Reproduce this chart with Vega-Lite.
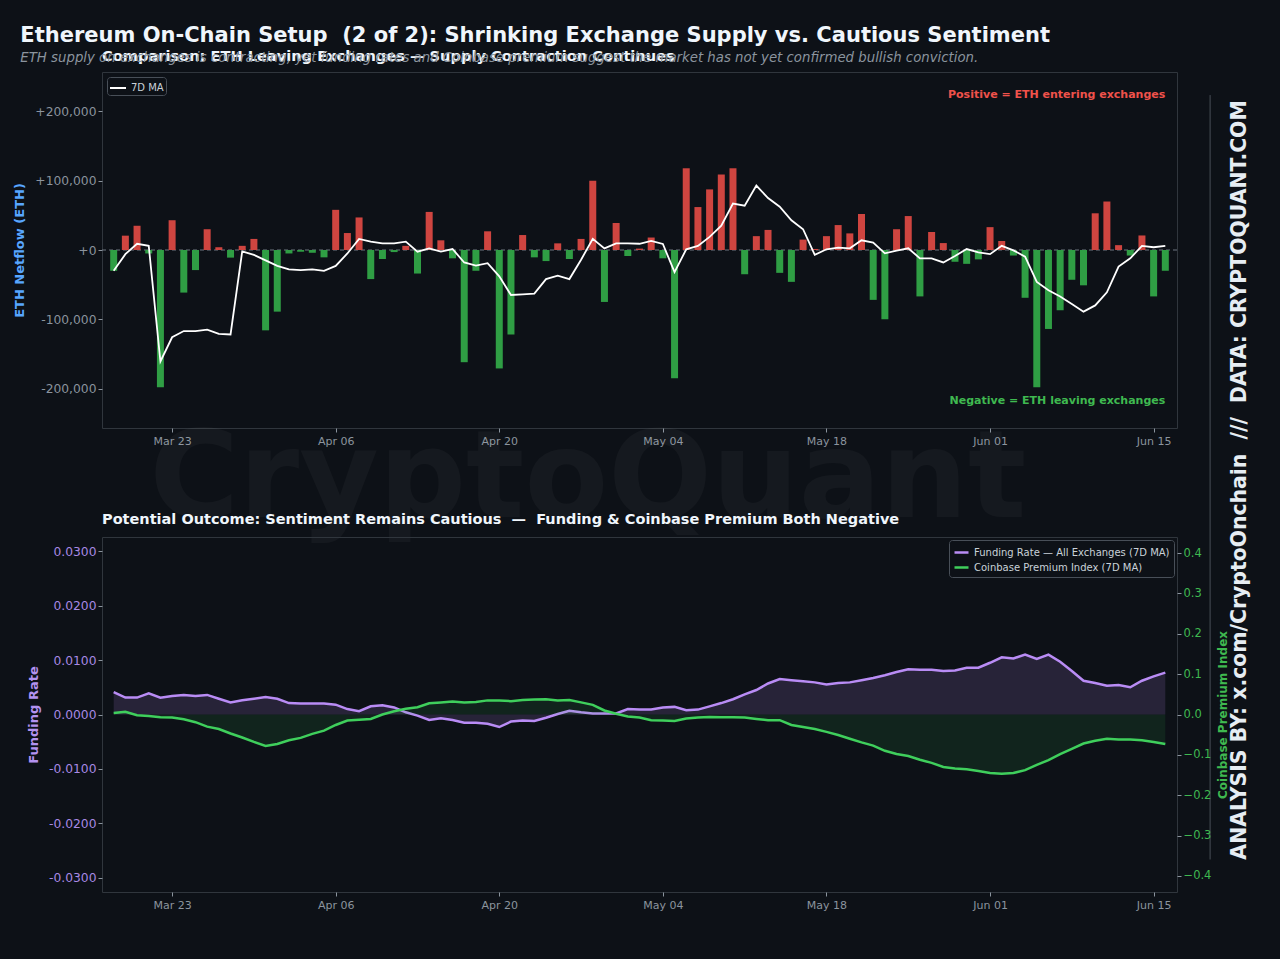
{
  "$schema": "https://vega.github.io/schema/vega-lite/v6.json",
  "background": "#0d1117",
  "padding": {"left": 13, "top": 24, "right": 30, "bottom": 48},
  "config": {
    "font": "DejaVu Sans",
    "view": {"stroke": "#30363d", "fill": null},
    "axis": {"domain": false, "grid": false, "labelFont": "DejaVu Sans", "titleFont": "DejaVu Sans", "labelColor": "#8b949e", "tickColor": "#8b949e", "tickSize": 4, "labelFontSize": 11}
  },
  "title": {
    "text": "Ethereum On-Chain Setup \u00a0(2 of 2): Shrinking Exchange Supply vs. Cautious Sentiment",
    "subtitle": "ETH supply on exchanges is contracting, yet funding rates and Coinbase premium suggest the market has not yet confirmed bullish conviction.",
    "anchor": "start", "fontSize": 21, "fontWeight": "bold", "color": "#f0f6fc",
    "subtitleColor": "#8b949e", "subtitleFontStyle": "italic", "subtitleFontSize": 13.3, "subtitlePadding": 5,
    "offset": -15, "dx": 7
  },
  "data": {"values": [
    {"d": "2025-03-18", "netflow": -30000, "ma7": -30000, "funding": 0.0041, "premium": 0.004},
    {"d": "2025-03-19", "netflow": 20700, "ma7": -6000, "funding": 0.0031, "premium": 0.0066},
    {"d": "2025-03-20", "netflow": 35000, "ma7": 9000, "funding": 0.0031, "premium": -0.0017},
    {"d": "2025-03-21", "netflow": -5000, "ma7": 6000, "funding": 0.0039, "premium": -0.004},
    {"d": "2025-03-22", "netflow": -198000, "ma7": -161000, "funding": 0.0031, "premium": -0.0066},
    {"d": "2025-03-23", "netflow": 43000, "ma7": -126000, "funding": 0.0034, "premium": -0.0074},
    {"d": "2025-03-24", "netflow": -61500, "ma7": -117000, "funding": 0.0036, "premium": -0.012},
    {"d": "2025-03-25", "netflow": -29000, "ma7": -117000, "funding": 0.0034, "premium": -0.019},
    {"d": "2025-03-26", "netflow": 30000, "ma7": -115000, "funding": 0.0036, "premium": -0.030},
    {"d": "2025-03-27", "netflow": 4000, "ma7": -121000, "funding": 0.0029, "premium": -0.036},
    {"d": "2025-03-28", "netflow": -11000, "ma7": -122000, "funding": 0.0022, "premium": -0.047},
    {"d": "2025-03-29", "netflow": 6000, "ma7": -2000, "funding": 0.0026, "premium": -0.057},
    {"d": "2025-03-30", "netflow": 16000, "ma7": -7000, "funding": 0.0029, "premium": -0.068},
    {"d": "2025-03-31", "netflow": -116000, "ma7": -15000, "funding": 0.0032, "premium": -0.078},
    {"d": "2025-04-01", "netflow": -89000, "ma7": -23000, "funding": 0.0029, "premium": -0.073},
    {"d": "2025-04-02", "netflow": -5000, "ma7": -28000, "funding": 0.0021, "premium": -0.064},
    {"d": "2025-04-03", "netflow": -2500, "ma7": -29000, "funding": 0.0020, "premium": -0.058},
    {"d": "2025-04-04", "netflow": -4000, "ma7": -28000, "funding": 0.0020, "premium": -0.048},
    {"d": "2025-04-05", "netflow": -10600, "ma7": -30000, "funding": 0.0020, "premium": -0.040},
    {"d": "2025-04-06", "netflow": 58000, "ma7": -23000, "funding": 0.0018, "premium": -0.026},
    {"d": "2025-04-07", "netflow": 24500, "ma7": -5000, "funding": 0.0010, "premium": -0.015},
    {"d": "2025-04-08", "netflow": 47000, "ma7": 16000, "funding": 0.0006, "premium": -0.013},
    {"d": "2025-04-09", "netflow": -42000, "ma7": 12000, "funding": 0.0015, "premium": -0.011},
    {"d": "2025-04-10", "netflow": -13000, "ma7": 9600, "funding": 0.0017, "premium": 0.000},
    {"d": "2025-04-11", "netflow": -3000, "ma7": 9600, "funding": 0.0013, "premium": 0.008},
    {"d": "2025-04-12", "netflow": 6000, "ma7": 12000, "funding": 0.0004, "premium": 0.014},
    {"d": "2025-04-13", "netflow": -34000, "ma7": -2400, "funding": -0.0002, "premium": 0.018},
    {"d": "2025-04-14", "netflow": 55000, "ma7": 2400, "funding": -0.0010, "premium": 0.028},
    {"d": "2025-04-15", "netflow": 14000, "ma7": -2400, "funding": -0.0007, "premium": 0.030},
    {"d": "2025-04-16", "netflow": -12000, "ma7": 1400, "funding": -0.0010, "premium": 0.032},
    {"d": "2025-04-17", "netflow": -162000, "ma7": -18000, "funding": -0.0015, "premium": 0.030},
    {"d": "2025-04-18", "netflow": -30000, "ma7": -22600, "funding": -0.0015, "premium": 0.031},
    {"d": "2025-04-19", "netflow": 27000, "ma7": -19000, "funding": -0.0017, "premium": 0.035},
    {"d": "2025-04-20", "netflow": -171000, "ma7": -38000, "funding": -0.0023, "premium": 0.035},
    {"d": "2025-04-21", "netflow": -122000, "ma7": -65000, "funding": -0.0013, "premium": 0.033},
    {"d": "2025-04-22", "netflow": 21600, "ma7": -64000, "funding": -0.0011, "premium": 0.036},
    {"d": "2025-04-23", "netflow": -10600, "ma7": -63000, "funding": -0.0012, "premium": 0.037},
    {"d": "2025-04-24", "netflow": -16000, "ma7": -42000, "funding": -0.0006, "premium": 0.038},
    {"d": "2025-04-25", "netflow": 9600, "ma7": -37000, "funding": 0.0001, "premium": 0.035},
    {"d": "2025-04-26", "netflow": -13000, "ma7": -42000, "funding": 0.0007, "premium": 0.036},
    {"d": "2025-04-27", "netflow": 16000, "ma7": -14000, "funding": 0.0004, "premium": 0.030},
    {"d": "2025-04-28", "netflow": 100000, "ma7": 16000, "funding": 0.0002, "premium": 0.024},
    {"d": "2025-04-29", "netflow": -75000, "ma7": 2400, "funding": 0.0002, "premium": 0.010},
    {"d": "2025-04-30", "netflow": 39000, "ma7": 9600, "funding": 0.0002, "premium": 0.002},
    {"d": "2025-05-01", "netflow": -8700, "ma7": 9600, "funding": 0.0010, "premium": -0.005},
    {"d": "2025-05-02", "netflow": 2000, "ma7": 9000, "funding": 0.0009, "premium": -0.0074},
    {"d": "2025-05-03", "netflow": 18000, "ma7": 13000, "funding": 0.0009, "premium": -0.014},
    {"d": "2025-05-04", "netflow": -12000, "ma7": 8700, "funding": 0.0013, "premium": -0.015},
    {"d": "2025-05-05", "netflow": -185000, "ma7": -32000, "funding": 0.0014, "premium": -0.016},
    {"d": "2025-05-06", "netflow": 118000, "ma7": 1000, "funding": 0.0008, "premium": -0.010},
    {"d": "2025-05-07", "netflow": 62000, "ma7": 5800, "funding": 0.0009, "premium": -0.0074},
    {"d": "2025-05-08", "netflow": 87500, "ma7": 19000, "funding": 0.0015, "premium": -0.006},
    {"d": "2025-05-09", "netflow": 109000, "ma7": 35000, "funding": 0.0021, "premium": -0.0066},
    {"d": "2025-05-10", "netflow": 118000, "ma7": 67000, "funding": 0.0028, "premium": -0.0066},
    {"d": "2025-05-11", "netflow": -35000, "ma7": 64000, "funding": 0.0037, "premium": -0.0074},
    {"d": "2025-05-12", "netflow": 20000, "ma7": 93000, "funding": 0.0045, "premium": -0.011},
    {"d": "2025-05-13", "netflow": 29000, "ma7": 75000, "funding": 0.0057, "premium": -0.014},
    {"d": "2025-05-14", "netflow": -33000, "ma7": 62500, "funding": 0.0065, "premium": -0.014},
    {"d": "2025-05-15", "netflow": -46000, "ma7": 43000, "funding": 0.0063, "premium": -0.026},
    {"d": "2025-05-16", "netflow": 15000, "ma7": 30000, "funding": 0.0061, "premium": -0.031},
    {"d": "2025-05-17", "netflow": 1500, "ma7": -7000, "funding": 0.0059, "premium": -0.036},
    {"d": "2025-05-18", "netflow": 20000, "ma7": 1000, "funding": 0.0055, "premium": -0.043},
    {"d": "2025-05-19", "netflow": 36000, "ma7": 3400, "funding": 0.0058, "premium": -0.051},
    {"d": "2025-05-20", "netflow": 24000, "ma7": 2400, "funding": 0.0059, "premium": -0.060},
    {"d": "2025-05-21", "netflow": 52000, "ma7": 14000, "funding": 0.0063, "premium": -0.069},
    {"d": "2025-05-22", "netflow": -72000, "ma7": 10600, "funding": 0.0067, "premium": -0.077},
    {"d": "2025-05-23", "netflow": -100000, "ma7": -4800, "funding": 0.0072, "premium": -0.090},
    {"d": "2025-05-24", "netflow": 30000, "ma7": -1000, "funding": 0.0078, "premium": -0.098},
    {"d": "2025-05-25", "netflow": 49000, "ma7": 2400, "funding": 0.0083, "premium": -0.103},
    {"d": "2025-05-26", "netflow": -67000, "ma7": -12000, "funding": 0.0082, "premium": -0.112},
    {"d": "2025-05-27", "netflow": 26000, "ma7": -12000, "funding": 0.0082, "premium": -0.120},
    {"d": "2025-05-28", "netflow": 10000, "ma7": -18000, "funding": 0.0080, "premium": -0.130},
    {"d": "2025-05-29", "netflow": -17000, "ma7": -8700, "funding": 0.0081, "premium": -0.134},
    {"d": "2025-05-30", "netflow": -20000, "ma7": 1400, "funding": 0.0086, "premium": -0.136},
    {"d": "2025-05-31", "netflow": -13500, "ma7": -3400, "funding": 0.0086, "premium": -0.140},
    {"d": "2025-06-01", "netflow": 33000, "ma7": -6000, "funding": 0.0095, "premium": -0.145},
    {"d": "2025-06-02", "netflow": 13000, "ma7": 6000, "funding": 0.0105, "premium": -0.147},
    {"d": "2025-06-03", "netflow": -8000, "ma7": -500, "funding": 0.0103, "premium": -0.145},
    {"d": "2025-06-04", "netflow": -69000, "ma7": -9600, "funding": 0.0110, "premium": -0.138},
    {"d": "2025-06-05", "netflow": -198000, "ma7": -46000, "funding": 0.0102, "premium": -0.125},
    {"d": "2025-06-06", "netflow": -114000, "ma7": -58000, "funding": 0.0110, "premium": -0.113},
    {"d": "2025-06-07", "netflow": -87000, "ma7": -67000, "funding": 0.0097, "premium": -0.098},
    {"d": "2025-06-08", "netflow": -43000, "ma7": -78000, "funding": 0.0080, "premium": -0.085},
    {"d": "2025-06-09", "netflow": -51000, "ma7": -89000, "funding": 0.0062, "premium": -0.072},
    {"d": "2025-06-10", "netflow": 53000, "ma7": -80000, "funding": 0.0058, "premium": -0.065},
    {"d": "2025-06-11", "netflow": 70000, "ma7": -61000, "funding": 0.0053, "premium": -0.060},
    {"d": "2025-06-12", "netflow": 7000, "ma7": -24000, "funding": 0.0054, "premium": -0.062},
    {"d": "2025-06-13", "netflow": -8000, "ma7": -12000, "funding": 0.0050, "premium": -0.062},
    {"d": "2025-06-14", "netflow": 21000, "ma7": 6000, "funding": 0.0062, "premium": -0.064},
    {"d": "2025-06-15", "netflow": -67000, "ma7": 4000, "funding": 0.0070, "premium": -0.068},
    {"d": "2025-06-16", "netflow": -30000, "ma7": 6000, "funding": 0.0077, "premium": -0.073}
  ]},
  "bounds": "flush",
  "spacing": 109,
  "resolve": {"scale": {"color": "independent"}, "legend": {"color": "independent"}},
  "vconcat": [
    {
      "width": 1075,
      "height": 356,
      "title": {"text": "Comparison: ETH Leaving Exchanges — Supply Contraction Continues", "anchor": "start", "frame": "group", "fontSize": 14.6, "fontWeight": "bold", "color": "#f0f6fc", "offset": 8},
      "encoding": {
        "x": {"field": "d", "type": "temporal", "title": null,
          "scale": {"type": "utc", "padding": 0, "domain": [{"year": 2025, "month": 3, "date": 17, "utc": true}, {"year": 2025, "month": 6, "date": 17, "utc": true}]},
          "axis": {"labelExpr": "utcFormat(datum.value, '%b %d')", "labelPadding": 3,
            "values": [{"year": 2025, "month": 3, "date": 23, "utc": true}, {"year": 2025, "month": 4, "date": 6, "utc": true}, {"year": 2025, "month": 4, "date": 20, "utc": true}, {"year": 2025, "month": 5, "date": 4, "utc": true}, {"year": 2025, "month": 5, "date": 18, "utc": true}, {"year": 2025, "month": 6, "date": 1, "utc": true}, {"year": 2025, "month": 6, "date": 15, "utc": true}]}}
      },
      "layer": [
        {
          "data": {"values": [{"d": "2025-04-27"}]},
          "mark": {"type": "text", "text": "CryptoQuant", "fontSize": 122, "fontWeight": "bold", "color": "#ffffff", "opacity": 0.03, "align": "center", "baseline": "middle"},
          "encoding": {"x": {"datum": {"year": 2025, "month": 4, "date": 27, "hours": 14, "utc": true}, "type": "temporal"}, "y": {"datum": -332000, "type": "quantitative"}}
        },
        {
          "data": {"values": [{"d": "2025-03-18"}]},
          "mark": {"type": "rule", "color": "#6e7681", "strokeDash": [4, 3], "strokeWidth": 1},
          "encoding": {"x": null, "y": {"datum": 0, "type": "quantitative"}}
        },
        {
          "mark": {"type": "bar", "size": 7},
          "encoding": {
            "y": {"field": "netflow", "type": "quantitative",
              "scale": {"domain": [-257000, 257000], "nice": false, "zero": false},
              "axis": {"title": "ETH Netflow (ETH)", "titleColor": "#58a6ff", "titleFontSize": 13, "titleFontWeight": "bold", "titlePadding": 8,
                "values": [-200000, -100000, 0, 100000, 200000], "labelFontSize": 12.3,
                "labelExpr": "datum.value > 0 ? '+' + format(datum.value, ',') : (datum.value == 0 ? '+0' : replace(format(datum.value, ','), '−', '-'))"}},
            "y2": {"datum": 0},
            "color": {"condition": {"test": "datum.netflow > 0", "value": "#cf4540"}, "value": "#2f9e44"}
          }
        },
        {
          "mark": {"type": "line", "strokeWidth": 1.8},
          "encoding": {
            "y": {"field": "ma7", "type": "quantitative"},
            "color": {"datum": "7D MA", "type": "nominal", "scale": {"domain": ["7D MA"], "range": ["#ffffff"]},
              "legend": {"title": null, "orient": "top-left", "offset": 5, "symbolType": "stroke", "symbolSize": 256, "symbolStrokeWidth": 2, "labelColor": "#c9d1d9", "labelFontSize": 10, "fillColor": "#0d1117", "strokeColor": "#484f58", "padding": 2, "cornerRadius": 3}}
          }
        },
        {
          "data": {"values": [{"d": "2025-06-16"}]},
          "mark": {"type": "text", "text": "Positive = ETH entering exchanges", "fontSize": 11, "fontWeight": "bold", "color": "#f0524b", "align": "right", "baseline": "middle"},
          "encoding": {"x": {"datum": {"year": 2025, "month": 6, "date": 16, "utc": true}, "type": "temporal"}, "y": {"datum": 223700, "type": "quantitative"}}
        },
        {
          "data": {"values": [{"d": "2025-06-16"}]},
          "mark": {"type": "text", "text": "Negative = ETH leaving exchanges", "fontSize": 11, "fontWeight": "bold", "color": "#3fb950", "align": "right", "baseline": "middle"},
          "encoding": {"x": {"datum": {"year": 2025, "month": 6, "date": 16, "utc": true}, "type": "temporal"}, "y": {"datum": -218000, "type": "quantitative"}}
        },
        {
          "data": {"values": [{"d": "2025-06-16"}]},
          "mark": {"type": "rule", "color": "#484f58", "strokeWidth": 1},
          "encoding": {"x": {"datum": {"year": 2025, "month": 6, "date": 19, "hours": 20, "utc": true}, "type": "temporal"}, "y": {"datum": 223700, "type": "quantitative"}, "y2": {"datum": -880000}}
        },
        {
          "data": {"values": [{"d": "2025-06-16"}]},
          "mark": {"type": "text", "text": "ANALYSIS BY: x.com/CryptoOnchain \u00a0/// \u00a0DATA: CRYPTOQUANT.COM", "fontSize": 20.4, "fontWeight": "bold", "color": "#e6edf3", "angle": 270, "align": "center", "baseline": "middle"},
          "encoding": {"x": {"datum": {"year": 2025, "month": 6, "date": 22, "hours": 9, "utc": true}, "type": "temporal"}, "y": {"datum": -332000, "type": "quantitative"}}
        }
      ]
    },
    {
      "width": 1075,
      "height": 355,
      "title": {"text": "Potential Outcome: Sentiment Remains Cautious \u00a0— \u00a0Funding & Coinbase Premium Both Negative", "anchor": "start", "frame": "group", "fontSize": 14.5, "fontWeight": "bold", "color": "#f0f6fc", "offset": 10},
      "encoding": {
        "x": {"field": "d", "type": "temporal", "title": null,
          "scale": {"type": "utc", "padding": 0, "domain": [{"year": 2025, "month": 3, "date": 17, "utc": true}, {"year": 2025, "month": 6, "date": 17, "utc": true}]},
          "axis": {"labelExpr": "utcFormat(datum.value, '%b %d')", "labelPadding": 3,
            "values": [{"year": 2025, "month": 3, "date": 23, "utc": true}, {"year": 2025, "month": 4, "date": 6, "utc": true}, {"year": 2025, "month": 4, "date": 20, "utc": true}, {"year": 2025, "month": 5, "date": 4, "utc": true}, {"year": 2025, "month": 5, "date": 18, "utc": true}, {"year": 2025, "month": 6, "date": 1, "utc": true}, {"year": 2025, "month": 6, "date": 15, "utc": true}]}}
      },
      "layer": [
        {
          "encoding": {
            "y": {"field": "funding", "type": "quantitative",
              "scale": {"domain": [-0.0326, 0.0326], "nice": false, "zero": false},
              "axis": {"title": "Funding Rate", "titleColor": "#b392f0", "titleFontSize": 13, "titleFontWeight": "bold", "titlePadding": 8,
                "values": [-0.03, -0.02, -0.01, 0, 0.01, 0.02, 0.03], "labelExpr": "replace(format(datum.value, '.4f'), '−', '-')", "labelColor": "#a98ae6", "labelFontSize": 12.3}}
          },
          "layer": [
            {
              "mark": {"type": "area", "color": "#b98cf5", "opacity": 0.15},
              "encoding": {"y2": {"datum": 0}}
            },
            {
              "data": {"values": [{"d": "2025-03-18"}]},
              "mark": {"type": "rule", "color": "#6e7681", "strokeDash": [4, 3], "strokeWidth": 1},
              "encoding": {"x": null, "y": {"datum": 0, "type": "quantitative"}}
            },
            {
              "mark": {"type": "line", "strokeWidth": 2.5},
              "encoding": {
                "color": {"datum": "Funding Rate — All Exchanges (7D MA)", "type": "nominal",
                  "scale": {"domain": ["Funding Rate — All Exchanges (7D MA)", "Coinbase Premium Index (7D MA)"], "range": ["#b98cf5", "#3fcf5c"]},
                  "legend": {"title": null, "orient": "top-right", "offset": 3, "symbolType": "stroke", "symbolSize": 196, "symbolStrokeWidth": 2.5, "labelColor": "#c9d1d9", "labelFontSize": 10, "labelLimit": 400, "fillColor": "#0d1117", "strokeColor": "#484f58", "padding": 4, "cornerRadius": 3, "rowPadding": 1}}
              }
            }
          ]
        },
        {
          "encoding": {
            "y": {"field": "premium", "type": "quantitative",
              "scale": {"domain": [-0.44, 0.44], "nice": false, "zero": false},
              "axis": {"orient": "right", "title": "Coinbase Premium Index", "titleColor": "#3fb950", "titleFontSize": 12, "titleFontWeight": "bold", "titlePadding": 7, "titleAngle": 270, "titleBaseline": "top",
                "values": [-0.4, -0.3, -0.2, -0.1, 0, 0.1, 0.2, 0.3, 0.4], "labelExpr": "replace(format(datum.value, '.1f'), '-', '−')", "labelColor": "#3fb950", "labelFontSize": 11.5}}
          },
          "layer": [
            {
              "mark": {"type": "area", "color": "#3fcf5c", "opacity": 0.1},
              "encoding": {"y2": {"datum": 0}}
            },
            {
              "mark": {"type": "line", "strokeWidth": 2.5},
              "encoding": {"color": {"datum": "Coinbase Premium Index (7D MA)", "type": "nominal"}}
            }
          ]
        }
      ],
      "resolve": {"scale": {"y": "independent"}}
    }
  ]
}
